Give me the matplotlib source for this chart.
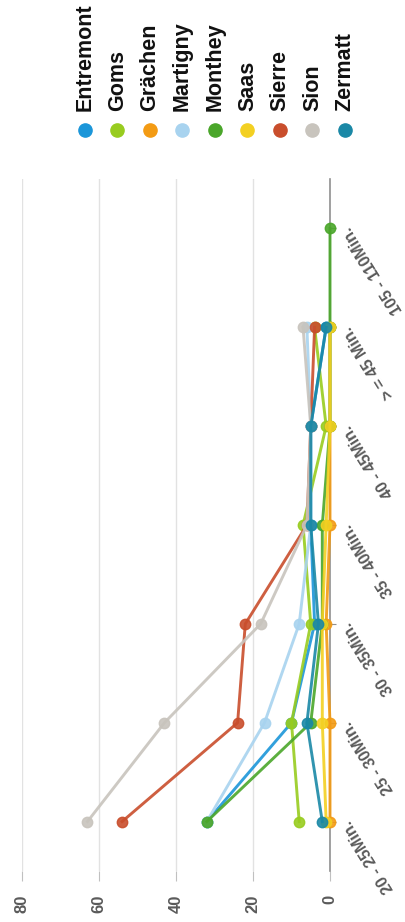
import numpy as np
import matplotlib
matplotlib.use("Agg")
import matplotlib.pyplot as plt
from matplotlib.lines import Line2D
from matplotlib.transforms import blended_transform_factory

plt.rcParams['font.family'] = ['Liberation Sans', 'DejaVu Sans']

# Fahrzeit-Klassen (Kategorien) und Anteile pro Region in %
kategorien = ["20 - 25Min.", "25 - 30Min.", "30 - 35Min.", "35 - 40Min.",
              "40 - 45Min.", "> = 45 Min.", "105 - 110Min."]
nan = np.nan
entremont = [32, 10, 4, 5, 5, 1, nan]
goms = [8, 10, 5, 7, 1, 4, nan]
graechen = [0, 0, 1, 0, 0, 0, nan]
martigny = [32, 17, 8, 5, 5, 6, nan]
monthey = [32, 5, 2, 2, 0, 0, 0]
saas = [1, 2, 2, 1, 0, 0, nan]
sierre = [54, 24, 22, 6, 5, 4, nan]
sion = [63, 43, 18, 6, 5, 7, nan]
zermatt = [2, 6, 3, 5, 5, 1, nan]

regionen = ["Entremont", "Goms", "Grächen", "Martigny", "Monthey",
            "Saas", "Sierre", "Sion", "Zermatt"]
werte = [entremont, goms, graechen, martigny, monthey,
         saas, sierre, sion, zermatt]
farben = ["#1b96d9", "#98cc1f", "#f39b14", "#a8d3ef", "#4aa62a",
          "#f3d022", "#c94e2c", "#c8c4bd", "#1a88a6"]

W, H = 406, 922
fig = plt.figure(figsize=(W / 100, H / 100), dpi=100)
ax = fig.add_axes([22 / W, 1 - 871 / H, 308 / W, (871 - 179) / H])

y = np.arange(len(kategorien))
for name, v, c in zip(regionen, werte, farben):
    ax.plot(v, y, color=c, lw=2.1, marker='o', ms=7.5, alpha=0.9,
            clip_on=False, zorder=3)

ax.set_xlim(80, 0)
ax.set_ylim(-0.5, len(kategorien) - 0.5)
ax.set_xticks([0, 20, 40, 60, 80])
ax.grid(axis='x', color='#e2e2e2', lw=1.0)
ax.set_axisbelow(True)
for s in ['top', 'left', 'bottom']:
    ax.spines[s].set_visible(False)
ax.spines['right'].set_color('#909090')
ax.spines['right'].set_linewidth(1.2)

ax.tick_params(axis='x', direction='out', length=7, width=0.8,
               color='#c0c0c0', pad=10, labelsize=12,
               labelcolor='#5a5a5a', labelrotation=90)
for t in ax.get_xticklabels():
    t.set_fontweight('bold')
ax.tick_params(axis='y', left=False, right=True, direction='out',
               length=4, width=0.8, color='#909090', labelleft=False)
ax.set_yticks(y)

# schräge Kategorie-Beschriftungen rechts der Achse
trans = blended_transform_factory(ax.transAxes, ax.transData)
for yi, lab in zip(y, kategorien):
    ax.text(1.055, yi, lab, transform=trans, rotation=122,
            rotation_mode='anchor', ha='right', va='center',
            fontsize=11.5, fontweight='bold', color='#5a5a5a')

# Legende oben
for i, (name, c) in enumerate(zip(regionen, farben)):
    lx = (85 + i * 32.5) / W
    fig.add_artist(Line2D([lx], [1 - 130 / H], marker='o', ms=9.5,
                          color=c, transform=fig.transFigure))
    fig.text(lx, 1 - 111 / H, name, rotation=90, ha='center', va='bottom',
             fontsize=15.5, fontweight='bold', color='#111111')

fig.savefig("out.png", dpi=100)
